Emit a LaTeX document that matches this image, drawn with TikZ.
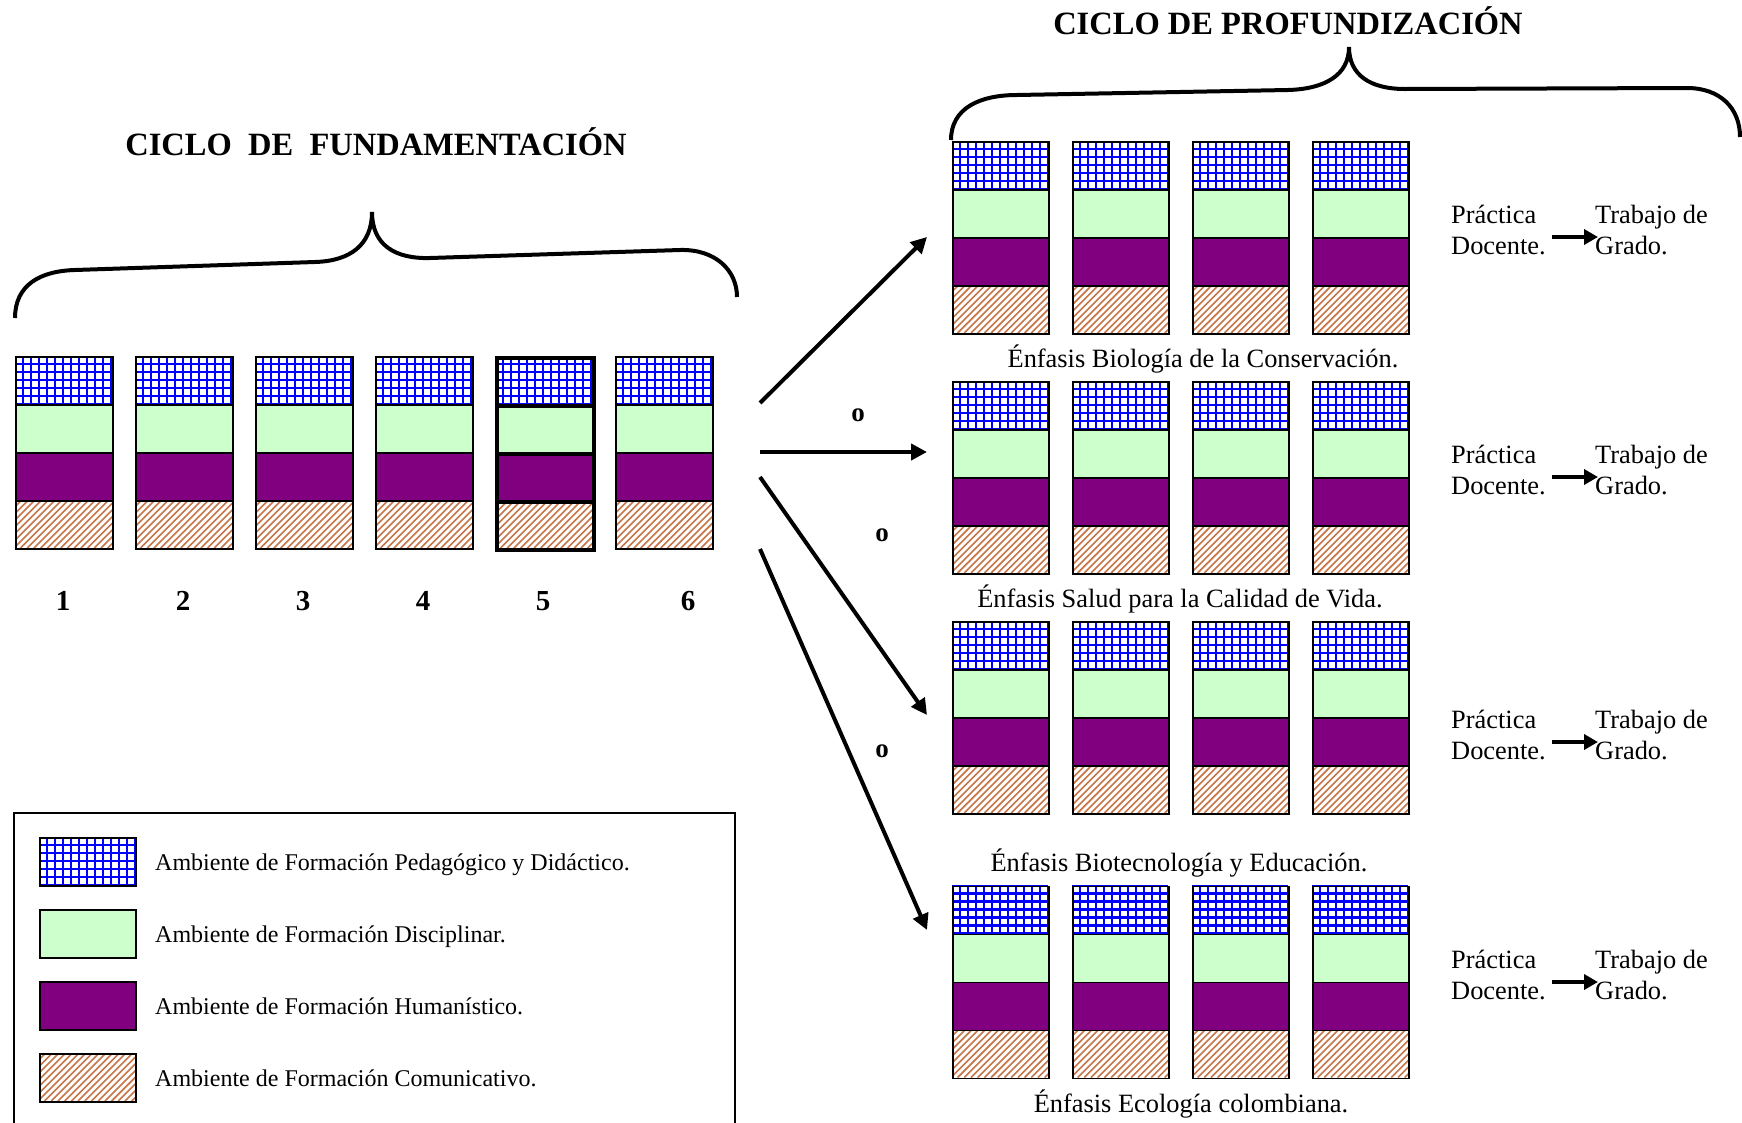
\documentclass[tikz,border=0pt]{standalone}
\usepackage{fontspec}
\setmainfont{Liberation Serif}
\usetikzlibrary{arrows.meta}

\definecolor{gridblue}{RGB}{0,0,255}
\definecolor{discgreen}{RGB}{204,255,204}
\definecolor{humpurple}{RGB}{128,0,128}
\definecolor{hatchbrown}{RGB}{198,118,72}

\tikzset{
  cellbox/.style={draw=black, line width=#1, rectangle, inner sep=0pt,
                  minimum height=48pt, anchor=north west},
  cellbox/.default=1.5pt,
  txt/.style={inner sep=0pt, text height=0.66em, text depth=0pt, yshift=-6.5pt},
  titletxt/.style={txt, font=\fontsize{32.5}{38}\selectfont\bfseries},
  numtxt/.style={txt, font=\fontsize{29}{34}\selectfont\bfseries},
  ortxt/.style={txt, font=\fontsize{27}{32}\selectfont\bfseries},
  bodytxt/.style={txt, font=\fontsize{26.4}{31}\selectfont},
  legtxt/.style={txt, font=\fontsize{24}{28}\selectfont, anchor=west},
  brace/.style={line width=4pt, line cap=butt},
  bigarrow/.style={line width=4pt, -{Triangle[length=16pt,width=16pt]}},
  smallarrow/.style={line width=4.5pt, -{Triangle[length=14pt,width=15pt]}},
}

% blue grid inside a cell: x, top y, width, height
\newcommand{\gridcell}[4]{%
  \begin{scope}
    \clip (#1,#2) rectangle ++(#3,#4);
    \foreach \k in {0,...,12}{\draw[gridblue,line width=2.4pt] ({#1+\k*8},#2) -- ++(0,#4);}
    \foreach \k in {0,...,6}{\draw[gridblue,line width=2.4pt] (#1,{#2+\k*8}) -- ++(#3,0);}
  \end{scope}}

% diagonal brown hatching inside a cell: x, top y, width, height
\newcommand{\hatchcell}[4]{%
  \begin{scope}
    \clip (#1,#2) rectangle ++(#3,#4);
    \foreach \k in {0,...,23}{\draw[hatchbrown,line width=1.6pt] ({#1-#4+\k*6.7},{#2+#4}) -- ++(#4,-#4);}
  \end{scope}}

% four stacked cells: name, x, top y, width, border width
\newcommand{\cellstack}[5]{%
  \gridcell{#2}{#3}{#4}{48}%
  \hatchcell{#2}{#3+144}{#4}{48}%
  \node[cellbox=#5, minimum width=#4pt] (#1-a) at (#2,#3) {};
  \node[cellbox=#5, minimum width=#4pt, fill=discgreen] (#1-b) at (#2,#3+48) {};
  \node[cellbox=#5, minimum width=#4pt, fill=humpurple] (#1-c) at (#2,#3+96) {};
  \node[cellbox=#5, minimum width=#4pt] (#1-d) at (#2,#3+144) {};
}

\begin{document}
\begin{tikzpicture}[x=1pt, y=-1pt]
\useasboundingbox[fill=white] (0,0) rectangle (1742,1122);

% ---- foundation cycle ----
\node[titletxt] (tfund) at (376,146) {CICLO\ \ DE\ \ FUNDAMENTACIÓN};
\draw[brace] (15,318) .. controls (15,285) and (40,271) .. (75,270)
  -- (315,262) .. controls (350,261) and (372,245) .. (372,212)
  .. controls (372,245) and (395,259) .. (430,258)
  -- (680,250) .. controls (715,249) and (737,270) .. (737,297);

\foreach \i/\bx/\bw in {1/15/1.5pt,2/135/1.5pt,3/255/1.5pt,4/375/1.5pt,5/495/4pt,6/615/1.5pt}{
  \cellstack{F\i}{\bx}{356}{97}{\bw}
}
\foreach \i/\nx in {1/63,2/183,3/303,4/423,5/543,6/688}{
  \node[numtxt] (n\i) at (\nx,601) {\i};
}

% ---- deepening cycle ----
\node[titletxt] (tprof) at (1288,25) {CICLO DE PROFUNDIZACIÓN};
\draw[brace] (951,140) .. controls (951,108) and (980,95) .. (1017,95)
  -- (1288,90) .. controls (1325,89) and (1349,75) .. (1349,47)
  .. controls (1349,75) and (1370,89) .. (1405,89)
  -- (1687,88) .. controls (1720,88) and (1740,108) .. (1740,137);

\foreach \g/\gy in {1/141,2/381,3/621,4/885.5}{
  \foreach \j/\bx in {1/952,2/1072,3/1192,4/1312}{
    \cellstack{P\g\j}{\bx}{\gy}{96}{1.5pt}
  }
}

\node[bodytxt] (e1) at (1203,358) {Énfasis Biología de la Conservación.};
\node[bodytxt] (e2) at (1180,598) {Énfasis Salud para la Calidad de Vida.};
\node[bodytxt] (e3) at (1179,862) {Énfasis Biotecnología y Educación.};
\node[bodytxt] (e4) at (1191,1103) {Énfasis Ecología colombiana.};

\foreach \g/\ty in {1/214,2/454,3/719,4/959}{
  \node[bodytxt, anchor=west] (pa\g) at (1451,\ty) {Práctica};
  \node[bodytxt, anchor=west] (pb\g) at (1451,\ty+31) {Docente.};
  \node[bodytxt, anchor=west] (ta\g) at (1595,\ty) {Trabajo de};
  \node[bodytxt, anchor=west] (tb\g) at (1595,\ty+31) {Grado.};
  \coordinate (ps\g) at (1552,\ty+23);
  \coordinate (pe\g) at (1598,\ty+23);
  \draw[smallarrow] (ps\g) -- (pe\g);
}

% ---- branching arrows ----
\coordinate (s1) at (760,403);  \coordinate (d1) at (927,237);
\coordinate (s2) at (760,452);  \coordinate (d2) at (927,452);
\coordinate (s3) at (760,477);  \coordinate (d3) at (927,715);
\coordinate (s4) at (760,549);  \coordinate (d4) at (927,930);
\draw[bigarrow] (s1) -- (d1);
\draw[bigarrow] (s2) -- (d2);
\draw[bigarrow] (s3) -- (d3);
\draw[bigarrow] (s4) -- (d4);
\node[ortxt] (o1) at (858,412) {o};
\node[ortxt] (o2) at (882,532) {o};
\node[ortxt] (o3) at (882,748) {o};

% ---- legend ----
\draw[line width=1.5pt] (14,1124) -- (14,813) -- (735,813) -- (735,1124);
\gridcell{39}{837}{96}{48}
\node[cellbox, minimum width=96pt] (lg1) at (39,837) {};
\node[cellbox, minimum width=96pt, fill=discgreen] (lg2) at (39,909) {};
\node[cellbox, minimum width=96pt, fill=humpurple] (lg3) at (39,981) {};
\hatchcell{39}{1053}{96}{48}
\node[cellbox, minimum width=96pt] (lg4) at (39,1053) {};
\node[legtxt] (lt1) at (155,861) {Ambiente de Formación Pedagógico y Didáctico.};
\node[legtxt] (lt2) at (155,933) {Ambiente de Formación Disciplinar.};
\node[legtxt] (lt3) at (155,1005) {Ambiente de Formación Humanístico.};
\node[legtxt] (lt4) at (155,1077) {Ambiente de Formación Comunicativo.};
\end{tikzpicture}
\end{document}
